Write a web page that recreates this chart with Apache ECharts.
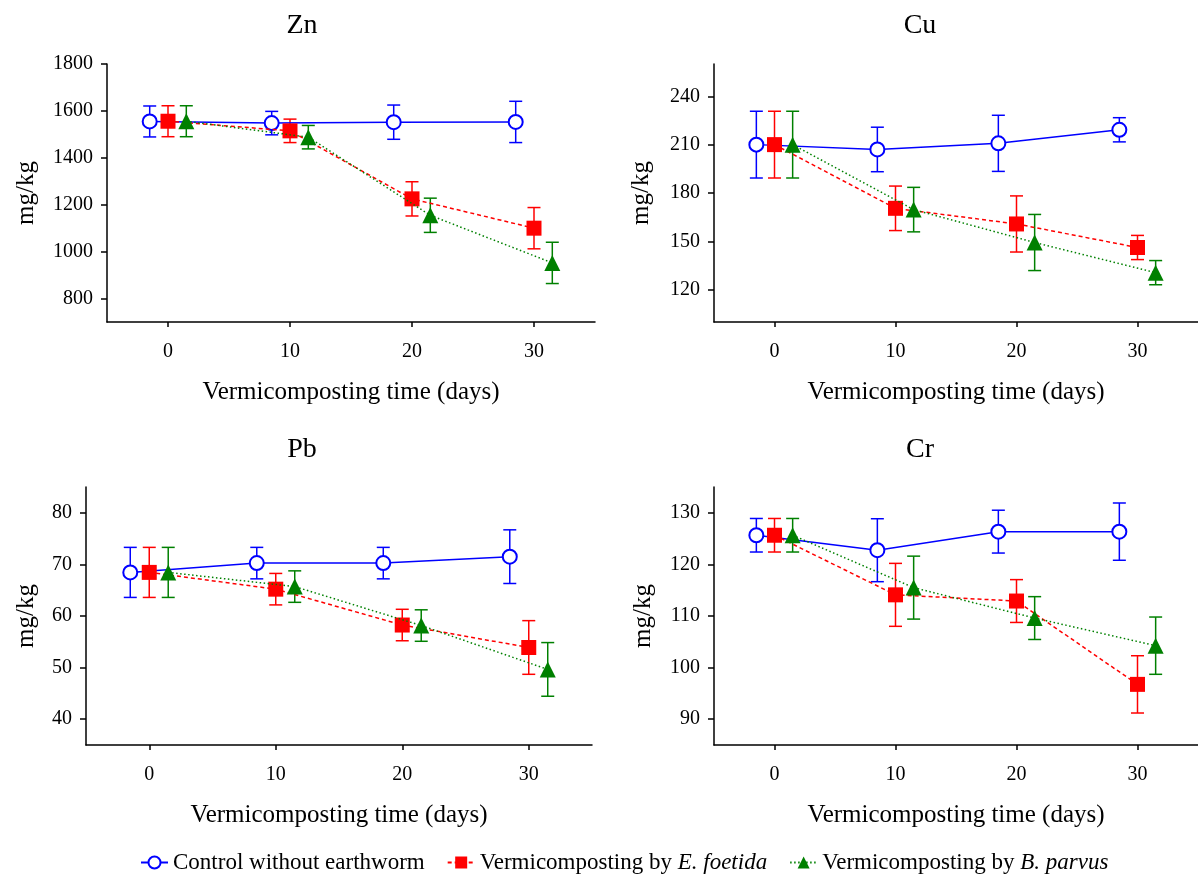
<!DOCTYPE html>
<html>
<head>
<meta charset="utf-8">
<script src="https://cdn.jsdelivr.net/npm/echarts@6/dist/echarts.min.js"></script>
<style>
  html, body { margin: 0; padding: 0; background: #fff; }
  #chart { width: 1198px; height: 874px; }
</style>
</head>
<body>
<div id="chart"></div>
<script>
// sampling days and treatments
var days = [0, 10, 20, 30];
var groups = ['Control without earthworm', 'Vermicomposting by E. foetida', 'Vermicomposting by B. parvus'];

// Zn (mg/kg), mean and error per day
var znControl = [1555, 1548, 1552, 1553];
var znFoetida = [1556, 1515, 1225, 1100];
var znParvus  = [1556, 1488, 1155, 952];
var znSd      = [66, 50, 73, 88];
var znTicks   = [800, 1000, 1200, 1400, 1600, 1800];

// Cu
var cuControl = [210, 207, 210.8, 219.2];
var cuFoetida = [210, 170.5, 160.8, 146.2];
var cuParvus  = [210, 169.7, 149.3, 130.6];
var cuSd      = [20.7, 13.8, 17.4, 7.5];
var cuTicks   = [120, 150, 180, 210, 240];

// Pb
var pbControl = [68.45, 70.25, 70.25, 71.5];
var pbFoetida = [68.45, 65.2, 58.25, 53.9];
var pbParvus  = [68.45, 65.7, 58.15, 49.65];
var pbSd      = [4.85, 3.05, 3.05, 5.2];
var pbTicks   = [40, 50, 60, 70, 80];

// Cr
var crControl = [125.65, 122.75, 126.35, 126.35];
var crFoetida = [125.65, 114.1, 112.9, 96.75];
var crParvus  = [125.65, 115.5, 109.6, 104.25];
var crSd      = [3.25, 6.1, 4.15, 5.55];
var crTicks   = [90, 100, 110, 120, 130];

var FONT = '"Liberation Serif", "DejaVu Serif", serif';

// panel layout (pixels)
var panels = [
  { title: 'Zn', means: [znControl, znFoetida, znParvus], sd: znSd, ticks: znTicks, yMin: 700, yMax: 1800,
    grid: { left: 107, top: 64, width: 488, height: 258 }, tx: 302, ty: 26, xGap: 58, yGap: 68 },
  { title: 'Cu', means: [cuControl, cuFoetida, cuParvus], sd: cuSd, ticks: cuTicks, yMin: 100, yMax: 260,
    grid: { left: 714, top: 64, width: 498, height: 258 }, tx: 920, ty: 26, xGap: 58, yGap: 60 },
  { title: 'Pb', means: [pbControl, pbFoetida, pbParvus], sd: pbSd, ticks: pbTicks, yMin: 35, yMax: 85,
    grid: { left: 86, top: 487, width: 506, height: 258 }, tx: 302, ty: 450, xGap: 58, yGap: 47 },
  { title: 'Cr', means: [crControl, crFoetida, crParvus], sd: crSd, ticks: crTicks, yMin: 85, yMax: 135,
    grid: { left: 714, top: 487, width: 498, height: 258 }, tx: 920, ty: 450, xGap: 58, yGap: 58 }
];

// look of each treatment
var looks = [
  { color: '#0000ff', type: 'solid', symbol: 'circle', size: 14, fill: '#ffffff', dodge: -1.5 },
  { color: '#ff0000', type: [4, 3], symbol: 'rect', size: 15, fill: '#ff0000', dodge: 0 },
  { color: '#008000', type: [1.5, 2.5], symbol: 'triangle', size: 16, fill: '#008000', dodge: 1.5 }
];

function errorBar(params, api) {
  var x = api.value(0);
  var top = api.coord([x, api.value(2)]);
  var bot = api.coord([x, api.value(1)]);
  var w = 6.5;
  var st = { stroke: api.visual('color'), lineWidth: 1.5, fill: null };
  return {
    type: 'group',
    children: [
      { type: 'line', shape: { x1: top[0], y1: top[1], x2: bot[0], y2: bot[1] }, style: st },
      { type: 'line', shape: { x1: top[0] - w, y1: top[1], x2: top[0] + w, y2: top[1] }, style: st },
      { type: 'line', shape: { x1: bot[0] - w, y1: bot[1], x2: bot[0] + w, y2: bot[1] }, style: st }
    ]
  };
}

var grids = [], xAxes = [], yAxes = [], series = [], texts = [];
var axisCol = { color: '#000', width: 1.5 };

panels.forEach(function (p, i) {
  grids.push(p.grid);
  texts.push({
    type: 'text', x: p.tx, y: p.ty,
    style: { text: p.title, font: '28px ' + FONT, fill: '#000', textAlign: 'center', textVerticalAlign: 'middle' }
  });
  xAxes.push({
    gridIndex: i, type: 'value', min: -5, max: 35,
    axisLine: { onZero: false, lineStyle: axisCol },
    axisTick: { customValues: days, length: 5, lineStyle: axisCol },
    axisLabel: { customValues: days, margin: 20, color: '#000', fontSize: 20, fontFamily: FONT },
    splitLine: { show: false },
    name: 'Vermicomposting time (days)', nameLocation: 'middle', nameGap: p.xGap,
    nameTextStyle: { color: '#000', fontSize: 25, fontFamily: FONT }
  });
  yAxes.push({
    gridIndex: i, type: 'value', min: p.yMin, max: p.yMax,
    axisLine: { onZero: false, lineStyle: axisCol },
    axisTick: { customValues: p.ticks, length: 6, lineStyle: axisCol },
    axisLabel: {
      customValues: p.ticks, margin: 14, color: '#000', fontSize: 20, fontFamily: FONT,
      formatter: function (v) { return String(v); }
    },
    splitLine: { show: false },
    name: 'mg/kg', nameLocation: 'middle', nameGap: p.yGap,
    nameTextStyle: { color: '#000', fontSize: 25, fontFamily: FONT }
  });
  p.means.forEach(function (vals, k) {
    var lk = looks[k];
    var pts = days.map(function (d, j) { return [d + lk.dodge, vals[j]]; });
    var bars = days.map(function (d, j) { return [d + lk.dodge, vals[j] - p.sd[j], vals[j] + p.sd[j]]; });
    series.push({
      type: 'custom', name: 'err' + i + k, xAxisIndex: i, yAxisIndex: i,
      renderItem: errorBar, data: bars, z: 1, silent: true,
      itemStyle: { color: lk.color }, encode: { x: 0, y: [1, 2] }
    });
    series.push({
      type: 'line', name: groups[k], xAxisIndex: i, yAxisIndex: i, data: pts, z: 3 + k,
      symbol: lk.symbol, symbolSize: lk.size, showSymbol: true,
      lineStyle: { color: lk.color, width: 1.5, type: lk.type },
      itemStyle: { color: lk.fill, borderColor: lk.color, borderWidth: k === 0 ? 2 : 0 },
      animation: false
    });
  });
});

var chart = echarts.init(document.getElementById('chart'));
chart.setOption({
  backgroundColor: '#fff',
  animation: false,
  grid: grids,
  xAxis: xAxes,
  yAxis: yAxes,
  series: series,
  graphic: texts,
  legend: {
    data: groups, top: 846, left: 135,
    itemWidth: 27, itemHeight: 15, itemGap: 22,
    textStyle: {
      color: '#000', fontSize: 23, fontFamily: FONT,
      rich: { i: { fontStyle: 'italic', fontSize: 23, fontFamily: FONT, color: '#000' } }
    },
    formatter: function (n) { return n.replace(/(E\. foetida|B\. parvus)/, '{i|$1}'); }
  }
});
</script>
</body>
</html>
